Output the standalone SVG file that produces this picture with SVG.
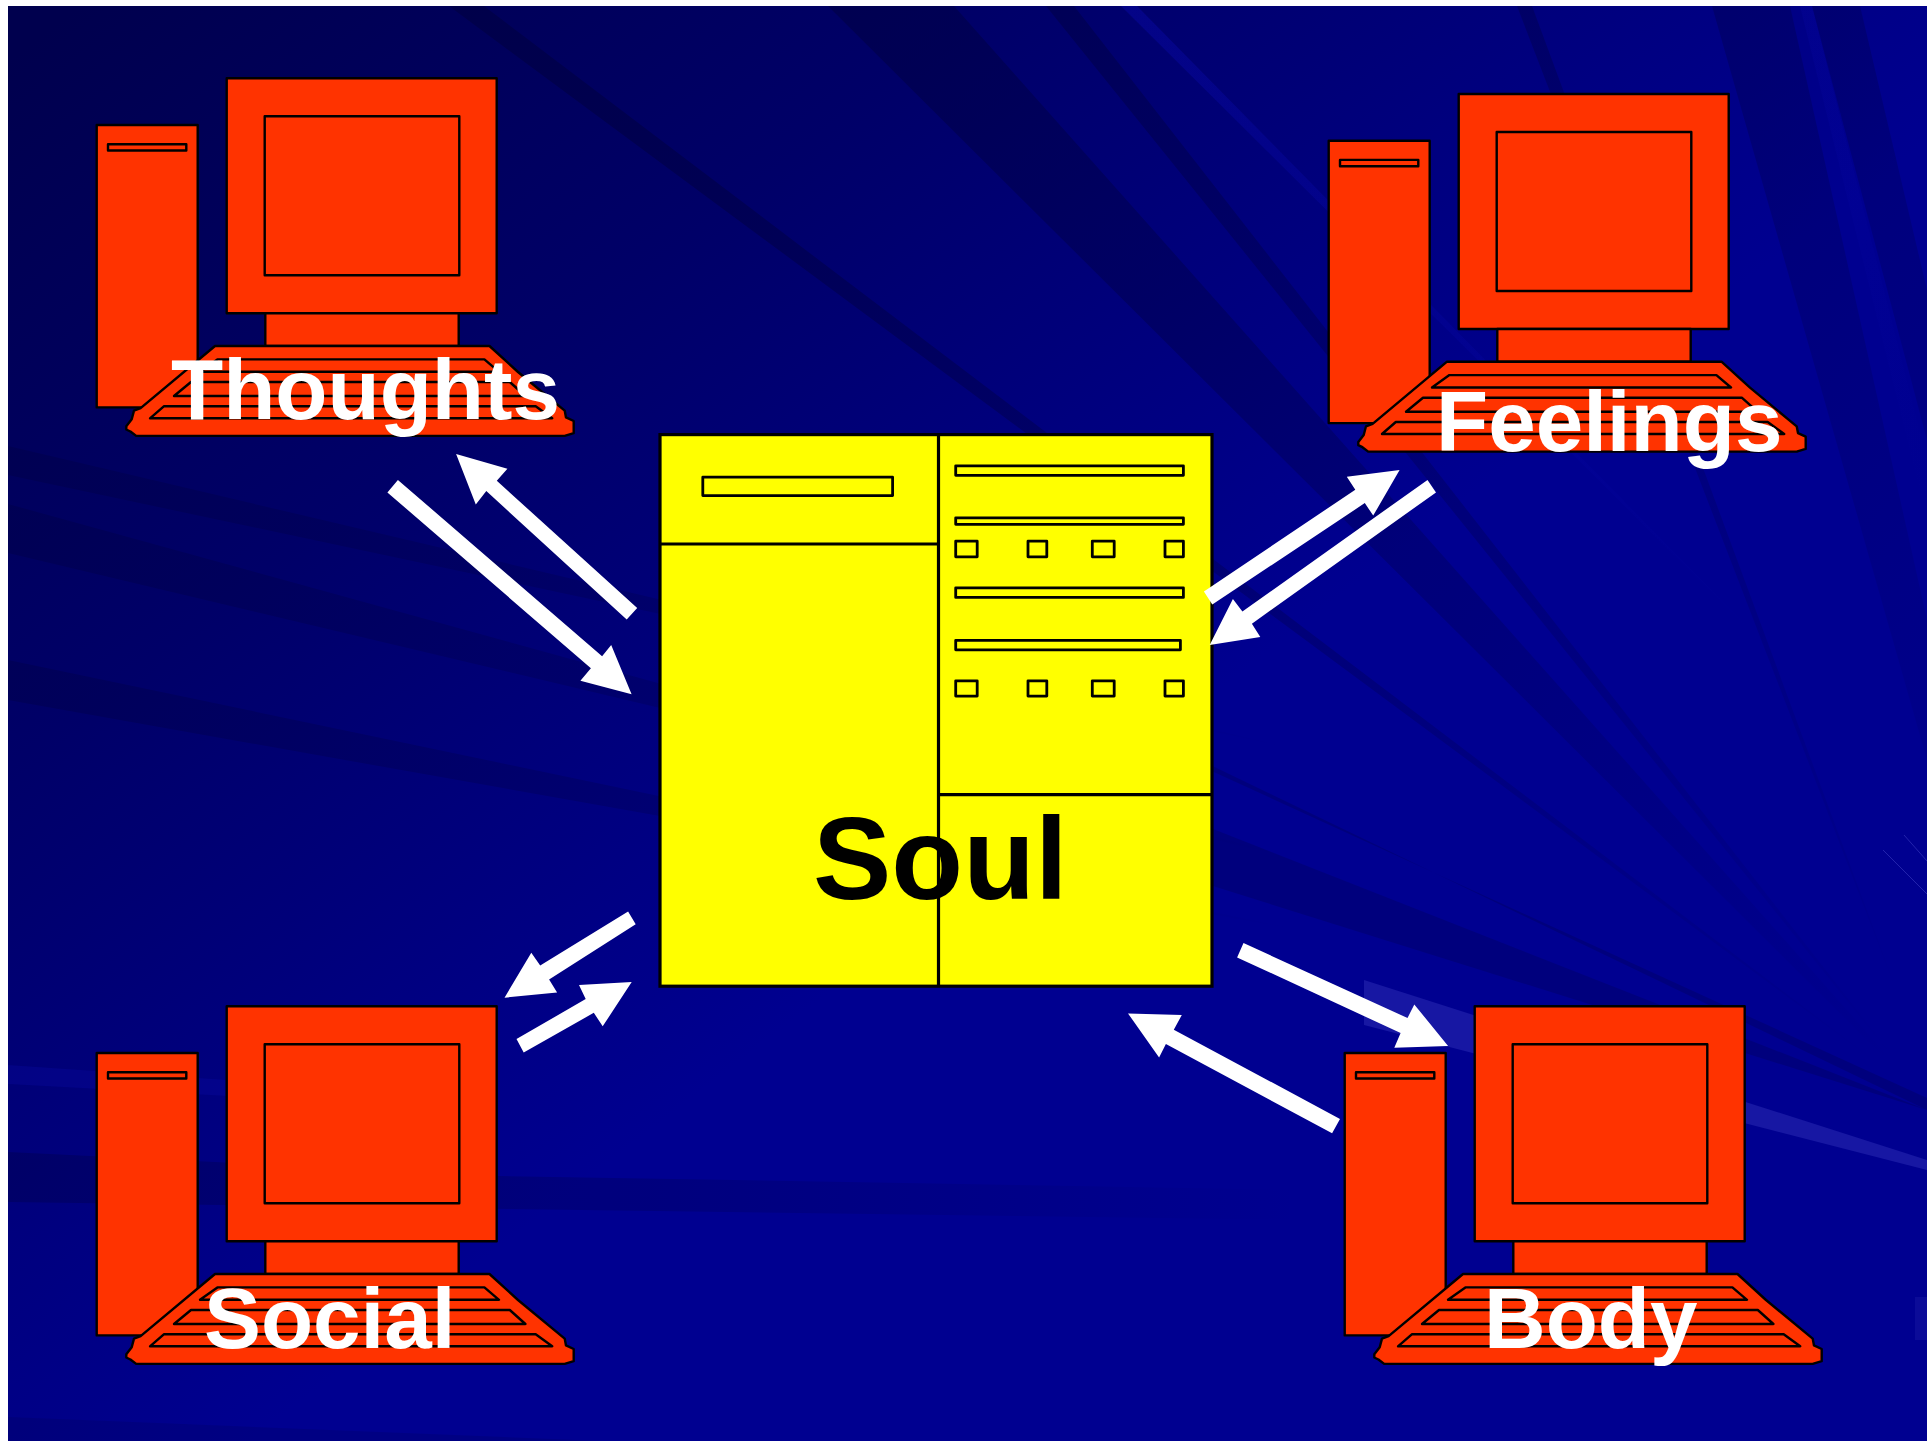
<svg xmlns="http://www.w3.org/2000/svg" xmlns:xlink="http://www.w3.org/1999/xlink" width="1927" height="1441" viewBox="0 0 1927 1441">
<style>
.pc{fill:#ff3300;stroke:#000;stroke-width:2.4;stroke-linejoin:round}
.sv{fill:#ffff00;stroke:#000;stroke-width:3.2}
.sm{fill:#ffff00;stroke:#000;stroke-width:2.8;stroke-linejoin:round}
.arrow{fill:#fff;stroke:none}
.dk{fill:url(#fadeDiag)}
.dk2{fill:url(#fadeH)}
.lt{fill:url(#fadeLt)}
.lb{font-family:"Liberation Sans",Arial,sans-serif;font-weight:700;font-size:85.4px;fill:#fff}
</style>
<defs>
<linearGradient id="bg" gradientUnits="userSpaceOnUse" x1="60" y1="20" x2="820" y2="1000">
<stop offset="0" stop-color="#00004e"/><stop offset=".45" stop-color="#000068"/><stop offset="1" stop-color="#000090"/>
</linearGradient>
<linearGradient id="fadeDiag" gradientUnits="userSpaceOnUse" x1="700" y1="0" x2="1900" y2="1050">
<stop offset="0" stop-color="#00003c" stop-opacity=".5"/><stop offset=".6" stop-color="#00003c" stop-opacity=".25"/><stop offset="1" stop-color="#00003c" stop-opacity="0"/>
</linearGradient>
<linearGradient id="fadeH" gradientUnits="userSpaceOnUse" x1="8" y1="0" x2="1300" y2="0">
<stop offset="0" stop-color="#00003c" stop-opacity=".3"/><stop offset=".5" stop-color="#00003c" stop-opacity=".22"/><stop offset="1" stop-color="#00003c" stop-opacity="0"/>
</linearGradient>
<linearGradient id="fadeLt" gradientUnits="userSpaceOnUse" x1="1100" y1="0" x2="1800" y2="650">
<stop offset="0" stop-color="#0a0ab0" stop-opacity=".4"/><stop offset="1" stop-color="#0a0ab0" stop-opacity="0"/>
</linearGradient>
<g id="computer">
<rect class="pc" x="96.7" y="125" width="101" height="282.4"/>
<rect class="pc" x="108" y="144.2" width="78.3" height="6.3"/>
<rect class="pc" x="226.7" y="78.3" width="270" height="235"/>
<rect class="pc" x="264.7" y="116.3" width="194.6" height="159"/>
<rect class="pc" x="265.3" y="313.3" width="193.4" height="32.7"/>
<path class="pc" d="M215 346H489.5L518 372 564.7 410.6 566 417.4 573.7 421V433.2L564.7 435.9H136.2L130.4 431.5 126.3 429.5V426.2L131.7 419.3 134 410.6 140.6 408.2Z"/>
<path class="pc" d="M217.4 359.4H484.4L499 371.8H200Z"/>
<path class="pc" d="M191 382H509.8L525.4 396H174Z"/>
<path class="pc" d="M163.8 406.3H535.7L552.2 418.3H150Z"/>
</g>
</defs>
<rect width="1927" height="1441" fill="#fff"/>
<g id="background">
<rect x="8" y="6" width="1919" height="1435" fill="url(#bg)"/>
<polygon class="dk" points="449,6 484,6 1900,1080"/>
<polygon class="dk" points="828,6 954,6 1927,1100"/>
<polygon class="dk" points="1046,6 1074,6 1927,1100"/>
<polygon class="dk" points="1517,6 1532,6 1900,1000"/>
<polygon class="dk" points="1712,6 1790,6 1927,620 1927,760"/>
<polygon class="dk" points="1812,6 1860,6 1927,290 1927,440"/>
<polygon class="lt" points="1121,6 1137,6 1800,680"/>
<polygon class="lt" points="1800,6 1812,6 1927,460 1927,520"/>
<polygon fill="#00003c" opacity=".22" points="1100,720 1200,760 1927,1110 1927,1098"/>
<polygon fill="#00003c" opacity=".22" points="1213,829 1213,886 1927,1110"/>
<polygon class="dk2" points="8,446 8,475 1300,750"/>
<polygon class="dk2" points="8,504 8,553 1300,860"/>
<polygon class="dk2" points="8,660 8,700 1300,930"/>
<polygon class="dk2" points="8,1152 8,1202 1300,1220 1300,1190 500,1176"/>
<polygon fill="#0a0ab0" opacity=".25" points="8,1065 8,1084 300,1100 300,1085"/>
<polygon fill="#00003c" opacity=".15" points="8,1417 8,1441 600,1441"/>
<polygon fill="#3a3ac0" opacity=".4" points="1364,980 1364,1025 1927,1170 1927,1160"/>
<polyline fill="none" stroke="#3a3ac0" stroke-width="1" opacity=".6" points="1883,850 1927,894"/>
<polyline fill="none" stroke="#3a3ac0" stroke-width="1" opacity=".6" points="1904,835 1927,861"/>
<rect x="1915" y="1297" width="12" height="43" fill="#2a2ab0" opacity=".25"/>
</g>
<g id="node-thoughts">
<use href="#computer" xlink:href="#computer"/>
<text class="lb" x="171" y="419">Thoughts</text>
</g>
<g id="node-feelings">
<use href="#computer" xlink:href="#computer" transform="translate(1232 15.7)"/>
<text class="lb" x="1436" y="450.5">Feelings</text>
</g>
<g id="node-social">
<use href="#computer" xlink:href="#computer" transform="translate(0 928)"/>
<text class="lb" x="204" y="1348">Social</text>
</g>
<g id="node-body">
<use href="#computer" xlink:href="#computer" transform="translate(1248 928)"/>
<text class="lb" x="1484" y="1348">Body</text>
</g>
<g id="node-soul">
<rect class="sv" x="660" y="434.6" width="552" height="551.6"/>
<line class="sv" x1="938.5" y1="434.6" x2="938.5" y2="986.2"/>
<line class="sv" x1="660" y1="544" x2="938.5" y2="544"/>
<line class="sv" x1="938.5" y1="794.6" x2="1212" y2="794.6"/>
<rect class="sm" x="702.8" y="477.2" width="189.8" height="18.4"/>
<rect class="sm" x="955.7" y="465.8" width="227.7" height="9.5"/>
<rect class="sm" x="955.7" y="517.8" width="227.7" height="6.5"/>
<rect class="sm" x="955.7" y="587.8" width="227.7" height="9.6"/>
<rect class="sm" x="955.7" y="640.3" width="224.7" height="9.5"/>
<rect class="sm" x="955.7" y="541.2" width="21.5" height="15.6"/>
<rect class="sm" x="1028" y="541.2" width="18.8" height="15.6"/>
<rect class="sm" x="1092.3" y="541.2" width="21.9" height="15.6"/>
<rect class="sm" x="1165" y="541.2" width="18.4" height="15.6"/>
<rect class="sm" x="955.7" y="680.8" width="21.5" height="15.3"/>
<rect class="sm" x="1028" y="680.8" width="18.8" height="15.3"/>
<rect class="sm" x="1092.3" y="680.8" width="21.9" height="15.3"/>
<rect class="sm" x="1165" y="680.8" width="18.4" height="15.3"/>
<text x="813" y="899" font-family="'Liberation Sans',Arial,sans-serif" font-weight="700" font-size="117.5" fill="#000">Soul</text>
</g>
<g id="connectors">
<polygon class="arrow" points="456.1,454 507.4,468.8 496.8,480.8 637.2,608 626.7,619.6 486.3,491 475.8,504.5"/>
<polygon class="arrow" points="397.9,479.9 602.1,656.3 611.2,645 631.6,694.2 580.4,680.8 590.9,668.3 387.4,492.4"/>
<polygon class="arrow" points="1203.9,591.5 1355.3,489.7 1346.8,476.8 1399.6,470.1 1373.2,515.6 1364.8,503.1 1212.3,604.5"/>
<polygon class="arrow" points="1427.5,479.9 1436,492.4 1251.9,623.7 1260.3,637 1209.7,645 1232.9,599.1 1242.4,611.6"/>
<polygon class="arrow" points="1243.5,943.1 1407.5,1017.9 1414.3,1004.4 1448.1,1046.1 1394.3,1047.7 1400.6,1033 1237.1,957.4"/>
<polygon class="arrow" points="1340,1118.9 1332.1,1133.2 1165.9,1044.1 1159.1,1057.6 1128,1013.4 1181.8,1015 1173.8,1029.8"/>
<polygon class="arrow" points="628.1,911.4 635.7,924.2 549.1,979.4 557.1,992.5 504.5,997.7 531.3,952.8 540.2,965.6"/>
<polygon class="arrow" points="516.5,1039.1 585.7,999 579,984.9 631.7,982.1 602.7,1026.3 593.8,1012.8 523.7,1052.5"/>
</g>
</svg>
